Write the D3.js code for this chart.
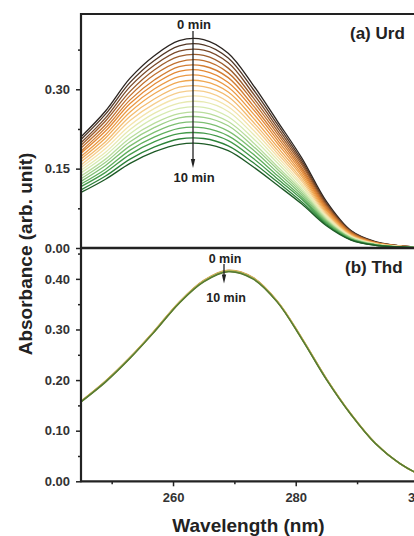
<!DOCTYPE html>
<html>
<head>
<meta charset="utf-8">
<script src="https://cdn.jsdelivr.net/npm/d3@7"></script>
<style>
  html, body { margin: 0; padding: 0; background: #fff; overflow: hidden; }
  svg { display: block; }
  text { font-family: "Liberation Sans", Arial, sans-serif; font-weight: bold; fill: #222; }
</style>
</head>
<body>
<script>
// ---- data ----
const wavelengths = [245, 249, 253, 257, 261, 265, 269, 273, 277, 281, 285, 289, 293, 297, 301, 305];

const urdTimes = [0, 0.5, 1, 1.5, 2, 2.5, 3, 3.5, 4, 4.5, 5, 5.5, 6, 6.5, 7, 7.5, 8, 8.5, 9, 9.5, 10];
const urdSpectra = [
  [0.210, 0.259, 0.321, 0.364, 0.392, 0.394, 0.368, 0.309, 0.240, 0.170, 0.088, 0.033, 0.012, 0.004, 0.001, 0],
  [0.205, 0.253, 0.313, 0.355, 0.382, 0.384, 0.359, 0.301, 0.234, 0.165, 0.085, 0.032, 0.011, 0.004, 0.001, 0],
  [0.199, 0.246, 0.305, 0.346, 0.372, 0.374, 0.350, 0.293, 0.228, 0.161, 0.083, 0.031, 0.011, 0.004, 0.001, 0],
  [0.194, 0.240, 0.296, 0.337, 0.362, 0.364, 0.340, 0.285, 0.222, 0.157, 0.080, 0.030, 0.010, 0.004, 0.001, 0],
  [0.189, 0.233, 0.288, 0.328, 0.352, 0.354, 0.331, 0.278, 0.216, 0.152, 0.078, 0.029, 0.010, 0.004, 0.001, 0],
  [0.183, 0.227, 0.280, 0.318, 0.343, 0.344, 0.322, 0.270, 0.210, 0.148, 0.075, 0.028, 0.010, 0.003, 0.001, 0],
  [0.179, 0.221, 0.273, 0.310, 0.334, 0.335, 0.313, 0.263, 0.204, 0.144, 0.073, 0.027, 0.009, 0.003, 0.001, 0],
  [0.173, 0.214, 0.265, 0.301, 0.324, 0.325, 0.304, 0.255, 0.198, 0.139, 0.071, 0.026, 0.009, 0.003, 0.001, 0],
  [0.168, 0.208, 0.257, 0.292, 0.314, 0.315, 0.295, 0.247, 0.191, 0.135, 0.068, 0.025, 0.009, 0.003, 0.001, 0],
  [0.163, 0.201, 0.249, 0.282, 0.304, 0.305, 0.286, 0.239, 0.185, 0.130, 0.066, 0.024, 0.008, 0.003, 0.001, 0],
  [0.157, 0.195, 0.241, 0.273, 0.294, 0.296, 0.276, 0.232, 0.179, 0.126, 0.063, 0.023, 0.008, 0.003, 0.001, 0],
  [0.152, 0.188, 0.232, 0.264, 0.284, 0.286, 0.267, 0.224, 0.173, 0.121, 0.061, 0.022, 0.008, 0.003, 0.001, 0],
  [0.147, 0.181, 0.224, 0.255, 0.274, 0.276, 0.258, 0.216, 0.167, 0.117, 0.058, 0.021, 0.007, 0.003, 0.001, 0],
  [0.142, 0.175, 0.216, 0.246, 0.264, 0.266, 0.248, 0.208, 0.161, 0.112, 0.056, 0.020, 0.007, 0.002, 0.001, 0],
  [0.136, 0.168, 0.208, 0.236, 0.254, 0.256, 0.239, 0.200, 0.154, 0.108, 0.054, 0.019, 0.007, 0.002, 0.001, 0],
  [0.131, 0.162, 0.201, 0.228, 0.246, 0.247, 0.231, 0.193, 0.149, 0.104, 0.052, 0.019, 0.006, 0.002, 0.001, 0],
  [0.126, 0.156, 0.193, 0.219, 0.236, 0.237, 0.221, 0.186, 0.143, 0.100, 0.050, 0.018, 0.006, 0.002, 0.001, 0],
  [0.121, 0.149, 0.185, 0.210, 0.226, 0.227, 0.212, 0.178, 0.137, 0.096, 0.048, 0.017, 0.006, 0.002, 0.001, 0],
  [0.116, 0.143, 0.177, 0.201, 0.216, 0.217, 0.203, 0.170, 0.131, 0.092, 0.046, 0.016, 0.006, 0.002, 0.001, 0],
  [0.110, 0.136, 0.168, 0.191, 0.206, 0.207, 0.193, 0.162, 0.125, 0.087, 0.044, 0.016, 0.005, 0.002, 0.000, 0],
  [0.105, 0.130, 0.160, 0.182, 0.196, 0.197, 0.184, 0.154, 0.119, 0.083, 0.042, 0.015, 0.005, 0.002, 0.000, 0]
];

const thdTimes = [0, 2, 4, 6, 8, 10];
const thdSpectra = [
  [0.158, 0.198, 0.245, 0.298, 0.354, 0.397, 0.417, 0.403, 0.356, 0.283, 0.203, 0.133, 0.075, 0.035, 0.010, 0.004],
  [0.158, 0.198, 0.245, 0.298, 0.354, 0.396, 0.416, 0.402, 0.356, 0.283, 0.203, 0.133, 0.075, 0.035, 0.010, 0.004],
  [0.158, 0.197, 0.244, 0.297, 0.353, 0.396, 0.416, 0.402, 0.355, 0.282, 0.202, 0.133, 0.075, 0.035, 0.010, 0.004],
  [0.157, 0.197, 0.244, 0.297, 0.353, 0.395, 0.415, 0.401, 0.355, 0.282, 0.202, 0.132, 0.075, 0.035, 0.010, 0.004],
  [0.157, 0.197, 0.244, 0.296, 0.352, 0.395, 0.415, 0.401, 0.354, 0.281, 0.202, 0.132, 0.075, 0.035, 0.010, 0.004],
  [0.157, 0.196, 0.243, 0.296, 0.352, 0.394, 0.414, 0.400, 0.354, 0.281, 0.201, 0.132, 0.074, 0.035, 0.010, 0.004]
];

const urdMajorTicks = [0, 0.15, 0.30];
const urdMinorTicks = [0.075, 0.225, 0.375];
const thdMajorTicks = [0, 0.10, 0.20, 0.30, 0.40];
const thdMinorTicks = [0.05, 0.15, 0.25, 0.35, 0.45];
const xMajorTicks = [260, 280, 300];
const xMinorTicks = [250, 270, 290];

const colorStops = [0, 1, 2, 3, 4, 5, 5.6, 6.5, 7.5, 8.5, 9.4, 10];
const colorRange = ["#2b2420", "#7a4a2a", "#c0702e", "#e48a36", "#f0a852", "#f6cd8c", "#f4e8b2", "#d6eab0", "#9ccf88", "#5fae5c", "#2f8a3c", "#1d5a26"];
const thdColorStops = [0, 5, 10];
const thdColorRange = ["#c98a3a", "#e0d676", "#557a32"];

// ---- layout ----
const W = 414, H = 536;
const padL = 81, padT = 14, midY = 248, botY = 481.3;

const svg = d3.select("body").append("svg").attr("width", W).attr("height", H);

const x = d3.scaleLinear().domain([245, 305]).range([padL, padL + 60 * 6.135]);
const yU = d3.scaleLinear().domain([0, 0.4423]).range([midY, padT]);
const yT = d3.scaleLinear().domain([0, 0.461]).range([botY, midY]);
const color = d3.scaleLinear().domain(colorStops).range(colorRange);
const thdColor = d3.scaleLinear().domain(thdColorStops).range(thdColorRange);

function drawCurves(spectra, times, y, col, sw) {
  const line = d3.line()
    .x((d, i) => x(wavelengths[i]))
    .y(d => y(d))
    .curve(d3.curveCatmullRom.alpha(0.5));
  svg.append("g").selectAll("path").data(spectra).join("path")
    .attr("d", line)
    .attr("fill", "none")
    .attr("stroke", (d, i) => col(times[i]))
    .attr("stroke-width", sw);
}
drawCurves(urdSpectra, urdTimes, yU, color, 1.3);
drawCurves(thdSpectra, thdTimes, yT, thdColor, 1.4);

// ---- axes ----
function yAxis(y, major, minor) {
  const g = svg.append("g").attr("transform", `translate(${padL},0)`);
  g.call(d3.axisLeft(y).tickValues(major).tickSize(5).tickPadding(6).tickFormat(d3.format(".2f")));
  g.append("g").call(d3.axisLeft(y).tickValues(minor.filter(v => v <= y.domain()[1])).tickSize(3).tickFormat(""));
  g.selectAll(".domain").remove();
  g.selectAll("line").attr("stroke", "#222").attr("stroke-width", 1.5);
  g.selectAll("text").style("font-size", "13px").style("fill", "#333");
}
yAxis(yU, urdMajorTicks, urdMinorTicks);
yAxis(yT, thdMajorTicks, thdMinorTicks);

const gx = svg.append("g").attr("transform", `translate(0,${botY})`);
gx.call(d3.axisBottom(x).tickValues(xMajorTicks).tickSize(5).tickPadding(6).tickFormat(d3.format("d")));
gx.append("g").call(d3.axisBottom(x).tickValues(xMinorTicks).tickSize(3).tickFormat(""));
gx.selectAll(".domain").remove();
gx.selectAll("line").attr("stroke", "#222").attr("stroke-width", 1.5);
gx.selectAll("text").style("font-size", "13px").style("fill", "#333");

// frame lines
const frame = svg.append("g").attr("stroke", "#222").attr("fill", "none");
frame.append("line").attr("x1", padL).attr("x2", W + 40).attr("y1", padT).attr("y2", padT).attr("stroke-width", 2.2);
frame.append("line").attr("x1", padL).attr("x2", W + 40).attr("y1", midY).attr("y2", midY).attr("stroke-width", 2.6);
frame.append("line").attr("x1", padL).attr("x2", W + 40).attr("y1", botY).attr("y2", botY).attr("stroke-width", 2.2);
frame.append("line").attr("x1", padL).attr("x2", padL).attr("y1", padT - 1).attr("y2", botY + 1).attr("stroke-width", 2.2);

// ---- annotations ----
function arrow(xv, y1, y2) {
  svg.append("line").attr("x1", xv).attr("x2", xv).attr("y1", y1).attr("y2", y2 - 8)
    .attr("stroke", "#222").attr("stroke-width", 1.3);
  svg.append("path").attr("d", `M${xv - 2.2},${y2 - 9}L${xv + 2.2},${y2 - 9}L${xv},${y2}Z`).attr("fill", "#222");
}
arrow(193, 31, 168);
arrow(224, 264, 283.5);

svg.append("text").attr("x", 194).attr("y", 28.5).attr("text-anchor", "middle").style("font-size", "13px").text("0 min");
svg.append("text").attr("x", 194).attr("y", 182).attr("text-anchor", "middle").style("font-size", "13px").text("10 min");
svg.append("text").attr("x", 225).attr("y", 262.5).attr("text-anchor", "middle").style("font-size", "12.5px").text("0 min");
svg.append("text").attr("x", 226).attr("y", 301.5).attr("text-anchor", "middle").style("font-size", "12.5px").text("10 min");

svg.append("text").attr("x", 350).attr("y", 38.5).style("font-size", "17px").text("(a) Urd");
svg.append("text").attr("x", 345).attr("y", 273).style("font-size", "17px").text("(b) Thd");

svg.append("text").attr("x", 248.5).attr("y", 531.5).attr("text-anchor", "middle").style("font-size", "19px").text("Wavelength (nm)");
svg.append("text").attr("transform", "translate(31.5,254) rotate(-90)").attr("text-anchor", "middle").style("font-size", "19px").text("Absorbance (arb. unit)");
</script>
</body>
</html>
